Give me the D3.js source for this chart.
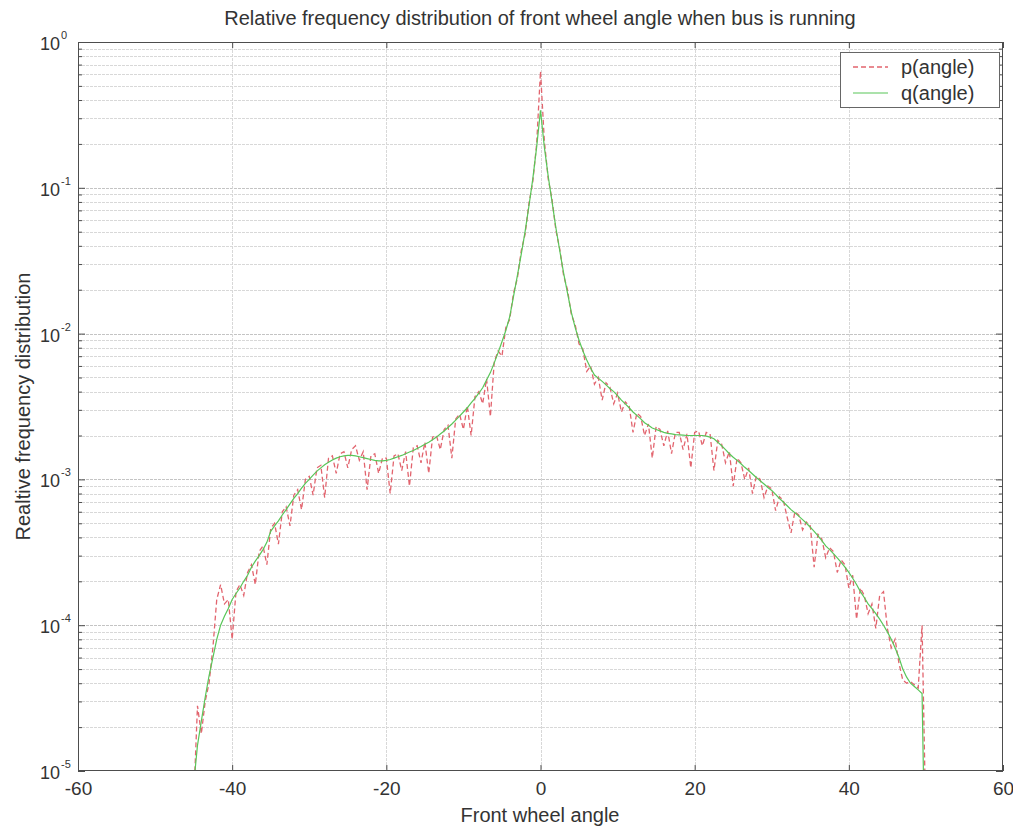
<!DOCTYPE html>
<html>
<head>
<meta charset="utf-8">
<script src="https://cdn.jsdelivr.net/npm/d3@7/dist/d3.min.js"></script>
<style>
  html, body { margin: 0; padding: 0; background: #fff; }
  svg { display: block; font-family: "Liberation Sans", Arial, Helvetica, sans-serif; }
</style>
</head>
<body>
<svg id="chart" width="1013" height="829"></svg>
<script>
// Front wheel angle samples (degrees)
const angles = [
  -45,-44.5,-44,-43.5,-43,-42.5,-42,-41.5,-41,-40.5,-40,-39.5,-39,-38.5,-38,-37.5,-37,-36.5,-36,-35.5,
  -35,-34.5,-34,-33.5,-33,-32.5,-32,-31.5,-31,-30.5,-30,-29.5,-29,-28.5,-28,-27.5,-27,-26.5,-26,-25.5,
  -25,-24.5,-24,-23.5,-23,-22.5,-22,-21.5,-21,-20.5,-20,-19.5,-19,-18.5,-18,-17.5,-17,-16.5,-16,-15.5,
  -15,-14.5,-14,-13.5,-13,-12.5,-12,-11.5,-11,-10.5,-10,-9.5,-9,-8.5,-8,-7.5,-7,-6.5,-6,-5.5,
  -5,-4.5,-4,-3.5,-3,-2.5,-2,-1.5,-1,-0.5,0,0.5,1,1.5,2,2.5,3,3.5,4,4.5,
  5,5.5,6,6.5,7,7.5,8,8.5,9,9.5,10,10.5,11,11.5,12,12.5,13,13.5,14,14.5,
  15,15.5,16,16.5,17,17.5,18,18.5,19,19.5,20,20.5,21,21.5,22,22.5,23,23.5,24,24.5,
  25,25.5,26,26.5,27,27.5,28,28.5,29,29.5,30,30.5,31,31.5,32,32.5,33,33.5,34,34.5,
  35,35.5,36,36.5,37,37.5,38,38.5,39,39.5,40,40.5,41,41.5,42,42.5,43,43.5,44,44.5,
  45,45.5,46,46.5,47,47.5,48,48.5,49,49.5,50
];

// Measured relative frequency p(angle)
const pValues = [
  6e-6,2.8e-5,1.8e-5,3.0e-5,4.0e-5,7e-5,1.5e-4,1.9e-4,1.4e-4,1.5e-4,8e-5,1.7e-4,1.9e-4,1.6e-4,2.3e-4,2.6e-4,1.9e-4,3.2e-4,3.5e-4,2.6e-4,
  4.6e-4,5.0e-4,3.6e-4,6.0e-4,6.5e-4,4.8e-4,7.8e-4,8.5e-4,6.2e-4,1.0e-3,1.05e-3,7.8e-4,1.2e-3,1.25e-3,7.5e-4,1.4e-3,1.45e-3,1.1e-3,1.5e-3,1.55e-3,
  1.2e-3,1.6e-3,1.7e-3,1.35e-3,1.55e-3,8.5e-4,1.45e-3,1.5e-3,1.1e-3,1.4e-3,1.4e-3,8e-4,1.45e-3,1.5e-3,1.15e-3,1.55e-3,9e-4,1.65e-3,1.7e-3,1.3e-3,
  1.8e-3,1.1e-3,1.95e-3,2.0e-3,1.6e-3,2.2e-3,2.35e-3,1.4e-3,2.6e-3,2.8e-3,2.2e-3,3.2e-3,2.0e-3,3.7e-3,4.0e-3,3.3e-3,4.9e-3,2.7e-3,6.4e-3,7.6e-3,
  7.0e-3,1.1e-2,1.25e-2,1.9e-2,2.4e-2,3.7e-2,4.8e-2,7.8e-2,1.1e-1,2.0e-1,6.3e-1,2.1e-1,1.15e-1,8.3e-2,5.1e-2,3.8e-2,2.5e-2,2.0e-2,1.35e-2,1.15e-2,
  8.5e-3,7.8e-3,5.5e-3,6.0e-3,4.5e-3,5.0e-3,3.5e-3,4.6e-3,4.3e-3,3.3e-3,3.9e-3,2.9e-3,3.4e-3,3.2e-3,2.1e-3,2.85e-3,2.7e-3,2.0e-3,2.4e-3,1.4e-3,
  2.3e-3,2.2e-3,1.7e-3,2.15e-3,1.5e-3,2.1e-3,2.1e-3,1.6e-3,2.05e-3,1.2e-3,2.1e-3,2.15e-3,1.7e-3,2.1e-3,2.05e-3,1.15e-3,1.85e-3,1.75e-3,1.3e-3,1.55e-3,
  9e-4,1.4e-3,1.3e-3,1.0e-3,1.2e-3,8e-4,1.05e-3,1.0e-3,7.5e-4,9.0e-4,8.6e-4,6.1e-4,7.6e-4,7.2e-4,5.5e-4,4.3e-4,6.0e-4,5.7e-4,4.5e-4,5.1e-4,
  4.8e-4,2.5e-4,4.2e-4,3.9e-4,2.9e-4,3.4e-4,3.2e-4,2.3e-4,2.8e-4,2.6e-4,1.8e-4,2.2e-4,1.1e-4,1.8e-4,1.6e-4,1.2e-4,1.4e-4,9.5e-5,1.6e-4,1.7e-4,
  9.5e-5,7e-5,8e-5,5.5e-5,4.2e-5,4.0e-5,4.1e-5,3.9e-5,3.7e-5,1.0e-4,4e-6
];

// Smoothed model q(angle)
const qValues = [
  8e-6,1.5e-5,2.2e-5,3.2e-5,4.5e-5,6e-5,8e-5,1.0e-4,1.15e-4,1.3e-4,1.5e-4,1.65e-4,1.8e-4,2.0e-4,2.2e-4,2.5e-4,2.75e-4,3.0e-4,3.3e-4,3.7e-4,
  4.4e-4,4.8e-4,5.2e-4,5.7e-4,6.2e-4,6.8e-4,7.4e-4,8.0e-4,8.7e-4,9.4e-4,1.0e-3,1.07e-3,1.14e-3,1.2e-3,1.26e-3,1.31e-3,1.36e-3,1.40e-3,1.43e-3,1.45e-3,
  1.46e-3,1.46e-3,1.45e-3,1.43e-3,1.41e-3,1.39e-3,1.37e-3,1.35e-3,1.34e-3,1.34e-3,1.35e-3,1.37e-3,1.40e-3,1.43e-3,1.46e-3,1.50e-3,1.54e-3,1.58e-3,1.63e-3,1.68e-3,
  1.74e-3,1.80e-3,1.87e-3,1.95e-3,2.05e-3,2.15e-3,2.27e-3,2.4e-3,2.55e-3,2.72e-3,2.9e-3,3.1e-3,3.35e-3,3.6e-3,3.9e-3,4.25e-3,4.8e-3,5.4e-3,6.3e-3,7.4e-3,
  8.8e-3,1.05e-2,1.3e-2,1.8e-2,2.5e-2,3.5e-2,5.0e-2,7.5e-2,1.15e-1,1.9e-1,3.4e-1,1.9e-1,1.2e-1,8e-2,5.3e-2,3.7e-2,2.6e-2,1.9e-2,1.4e-2,1.1e-2,
  9e-3,7.6e-3,6.6e-3,5.8e-3,5.2e-3,4.95e-3,4.7e-3,4.45e-3,4.2e-3,4.0e-3,3.75e-3,3.5e-3,3.3e-3,3.1e-3,2.9e-3,2.75e-3,2.6e-3,2.45e-3,2.35e-3,2.25e-3,
  2.2e-3,2.15e-3,2.1e-3,2.07e-3,2.05e-3,2.03e-3,2.02e-3,2.01e-3,2.0e-3,2.0e-3,2.0e-3,2.0e-3,2.0e-3,1.98e-3,1.95e-3,1.9e-3,1.8e-3,1.7e-3,1.6e-3,1.5e-3,
  1.42e-3,1.35e-3,1.28e-3,1.21e-3,1.15e-3,1.09e-3,1.03e-3,9.8e-4,9.3e-4,8.8e-4,8.4e-4,7.9e-4,7.4e-4,7.0e-4,6.6e-4,6.2e-4,5.9e-4,5.6e-4,5.3e-4,5.0e-4,
  4.7e-4,4.4e-4,4.1e-4,3.8e-4,3.5e-4,3.3e-4,3.1e-4,2.9e-4,2.7e-4,2.5e-4,2.3e-4,2.1e-4,1.9e-4,1.7e-4,1.55e-4,1.4e-4,1.3e-4,1.2e-4,1.1e-4,1.0e-4,
  9e-5,8e-5,7e-5,6e-5,5e-5,4.4e-5,4.0e-5,3.8e-5,3.6e-5,3.4e-5,1e-6
];

const xTicks = [-60, -40, -20, 0, 20, 40, 60];
const yDecades = [1e-5, 1e-4, 1e-3, 1e-2, 1e-1, 1];
const yExponents = ["-5", "-4", "-3", "-2", "-1", "0"];
const seriesNames = ["p(angle)", "q(angle)"];

const titleText = "Relative frequency distribution of front wheel angle when bus is running";
const xLabelText = "Front wheel angle";
const yLabelText = "Realtive frequency distribution";

const plot = { left: 78, right: 1003, top: 42, bottom: 771 };
const axisColor = "#4d4d4d";
const gridColor = "#d8d8d8";
const textColor = "#333";
const pColor = "#e2646e";
const qColor = "#58c658";
const fontSize = 19;

const svg = d3.select("#chart");

const x = d3.scaleLinear().domain([-60, 60]).range([plot.left, plot.right]);
const y = d3.scaleLog().domain([1e-5, 1]).range([plot.bottom, plot.top]);

// minor log positions 2..9 within each decade
const minorVals = [];
yDecades.slice(0, -1).forEach(d => {
  for (let m = 2; m <= 9; m++) minorVals.push(d * m);
});

// grid
const grid = svg.append("g");
grid.selectAll("line.hmin").data(minorVals).join("line")
  .attr("x1", plot.left).attr("x2", plot.right)
  .attr("y1", d => Math.round(y(d)) + 0.5).attr("y2", d => Math.round(y(d)) + 0.5)
  .attr("stroke", gridColor).attr("stroke-width", 1)
  .attr("stroke-dasharray", "3,1");
grid.selectAll("line.hmaj").data(yDecades.slice(1, -1)).join("line")
  .attr("x1", plot.left).attr("x2", plot.right)
  .attr("y1", d => Math.round(y(d)) + 0.5).attr("y2", d => Math.round(y(d)) + 0.5)
  .attr("stroke", "#c4c4c4").attr("stroke-width", 1)
  .attr("stroke-dasharray", "3,1");
grid.selectAll("line.v").data(xTicks.slice(1, -1)).join("line")
  .attr("x1", d => Math.round(x(d)) + 0.5).attr("x2", d => Math.round(x(d)) + 0.5)
  .attr("y1", plot.top).attr("y2", plot.bottom)
  .attr("stroke", gridColor).attr("stroke-width", 1)
  .attr("stroke-dasharray", "3,1");

// data lines, clipped to the axes box
svg.append("clipPath").attr("id", "plotClip").append("rect")
  .attr("x", plot.left).attr("y", plot.top)
  .attr("width", plot.right - plot.left).attr("height", plot.bottom - plot.top);

const lineOf = vals => d3.line()
  .x((d, i) => x(angles[i]))
  .y(d => y(d))(vals);

const lines = svg.append("g").attr("clip-path", "url(#plotClip)");
lines.append("path")
  .attr("d", lineOf(pValues))
  .attr("fill", "none").attr("stroke", pColor).attr("stroke-width", 1.3)
  .attr("stroke-dasharray", "5,3");
lines.append("path")
  .attr("d", lineOf(qValues))
  .attr("fill", "none").attr("stroke", qColor).attr("stroke-width", 1.2);

// axes box
svg.append("rect")
  .attr("x", plot.left + 0.5).attr("y", plot.top + 0.5)
  .attr("width", plot.right - plot.left - 1).attr("height", plot.bottom - plot.top - 1)
  .attr("fill", "none").attr("stroke", axisColor).attr("stroke-width", 1);

function styleAxis(g) {
  g.select(".domain").remove();
  g.selectAll(".tick line").attr("stroke", axisColor);
  g.selectAll("text").attr("fill", textColor).attr("font-size", fontSize)
    .attr("font-family", "'Liberation Sans', Arial, sans-serif");
}

// x axis (bottom with labels, top ticks only)
svg.append("g").attr("transform", `translate(0,${plot.bottom})`)
  .call(d3.axisBottom(x).tickValues(xTicks).tickSize(-6).tickPadding(11).tickFormat(d => String(d)))
  .call(styleAxis);
svg.append("g").attr("transform", `translate(0,${plot.top})`)
  .call(d3.axisTop(x).tickValues(xTicks).tickSize(-6).tickFormat(""))
  .call(styleAxis);

// y axis major + minor ticks, both sides
svg.append("g").attr("transform", `translate(${plot.left},0)`)
  .call(d3.axisLeft(y).tickValues(yDecades).tickSize(-7).tickFormat(""))
  .call(styleAxis);
svg.append("g").attr("transform", `translate(${plot.left},0)`)
  .call(d3.axisLeft(y).tickValues(minorVals).tickSize(-4).tickFormat(""))
  .call(styleAxis);
svg.append("g").attr("transform", `translate(${plot.right},0)`)
  .call(d3.axisRight(y).tickValues(yDecades).tickSize(-7).tickFormat(""))
  .call(styleAxis);
svg.append("g").attr("transform", `translate(${plot.right},0)`)
  .call(d3.axisRight(y).tickValues(minorVals).tickSize(-4).tickFormat(""))
  .call(styleAxis);

// y tick labels as 10 with superscript exponent
const yl = svg.append("g");
yDecades.forEach((d, i) => {
  yl.append("text")
    .attr("x", 60).attr("y", y(d) + 8)
    .attr("text-anchor", "end")
    .attr("fill", textColor).attr("font-size", 18)
    .text("10");
  yl.append("text")
    .attr("x", 61).attr("y", y(d) - 3)
    .attr("fill", textColor).attr("font-size", 11)
    .text(yExponents[i]);
});

// title and axis labels
svg.append("text").attr("x", 540).attr("y", 25)
  .attr("text-anchor", "middle").attr("fill", textColor).attr("font-size", 20)
  .text(titleText);
svg.append("text").attr("x", 540).attr("y", 822)
  .attr("text-anchor", "middle").attr("fill", textColor).attr("font-size", 20)
  .text(xLabelText);
svg.append("text")
  .attr("transform", `translate(30,${(plot.top + plot.bottom) / 2}) rotate(-90)`)
  .attr("text-anchor", "middle").attr("fill", textColor).attr("font-size", 20)
  .text(yLabelText);

// legend
const lg = svg.append("g");
lg.append("rect")
  .attr("x", 840.5).attr("y", 52.5).attr("width", 159).attr("height", 55)
  .attr("fill", "#fff").attr("stroke", "#666").attr("stroke-width", 1);
const legendStyles = [
  { color: pColor, dash: "5,3", width: 1.3 },
  { color: qColor, dash: null, width: 1.2 }
];
seriesNames.forEach((name, i) => {
  const ly = 67 + i * 26;
  lg.append("line")
    .attr("x1", 853).attr("x2", 888).attr("y1", ly).attr("y2", ly)
    .attr("stroke", legendStyles[i].color).attr("stroke-width", legendStyles[i].width)
    .attr("stroke-dasharray", legendStyles[i].dash);
  lg.append("text").attr("x", 901).attr("y", ly + 7)
    .attr("fill", textColor).attr("font-size", 20)
    .text(name);
});
</script>
</body>
</html>
